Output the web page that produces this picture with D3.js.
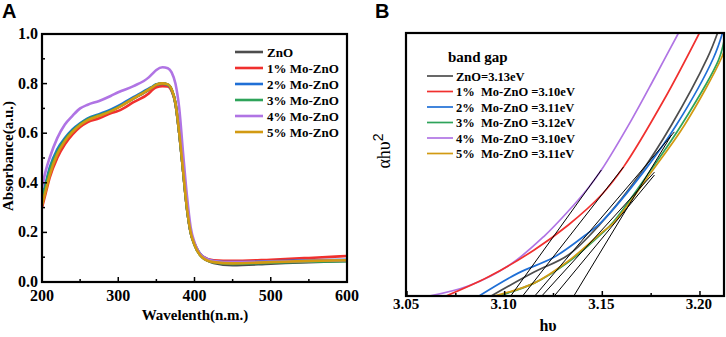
<!DOCTYPE html>
<html>
<head>
<meta charset="utf-8">
<script src="https://cdn.jsdelivr.net/npm/d3@7"></script>
<style>
  body { margin: 0; background: #fff; }
  svg { display: block; }
  text { font-family: "Liberation Serif", "Times New Roman", serif; font-weight: bold; }
</style>
</head>
<body>
<svg id="chart" width="726" height="337"></svg>
<script>
// Panel A: UV-vis absorbance spectra
const wavelengths = [200, 205, 210, 220, 230, 240, 250, 260, 275, 290, 300, 320, 340, 345, 350, 358, 365, 370, 375, 380, 385, 390, 395, 400, 410, 425, 450, 500, 550, 600];
const absZnO   = [0.32, 0.38, 0.44, 0.52, 0.57, 0.605, 0.635, 0.655, 0.672, 0.69, 0.705, 0.74, 0.775, 0.785, 0.795, 0.800, 0.795, 0.775, 0.72, 0.60, 0.45, 0.30, 0.20, 0.15, 0.10, 0.077, 0.068, 0.074, 0.080, 0.085];
const absMo1   = [0.30, 0.36, 0.42, 0.50, 0.555, 0.595, 0.625, 0.645, 0.66, 0.68, 0.69, 0.725, 0.76, 0.775, 0.785, 0.79, 0.788, 0.77, 0.72, 0.60, 0.45, 0.30, 0.20, 0.155, 0.105, 0.088, 0.085, 0.09, 0.097, 0.105];
const absMo2   = [0.34, 0.40, 0.46, 0.535, 0.58, 0.615, 0.64, 0.66, 0.677, 0.695, 0.71, 0.745, 0.78, 0.788, 0.797, 0.800, 0.795, 0.775, 0.72, 0.60, 0.45, 0.30, 0.20, 0.155, 0.105, 0.085, 0.08, 0.083, 0.087, 0.09];
const absMo3   = [0.33, 0.39, 0.45, 0.525, 0.575, 0.61, 0.637, 0.657, 0.673, 0.69, 0.705, 0.74, 0.777, 0.786, 0.796, 0.800, 0.796, 0.776, 0.722, 0.60, 0.45, 0.30, 0.20, 0.15, 0.10, 0.08, 0.073, 0.078, 0.082, 0.084];
const absMo4   = [0.38, 0.45, 0.50, 0.58, 0.635, 0.67, 0.70, 0.715, 0.73, 0.75, 0.765, 0.79, 0.825, 0.84, 0.855, 0.866, 0.862, 0.845, 0.80, 0.70, 0.52, 0.35, 0.22, 0.16, 0.105, 0.085, 0.08, 0.082, 0.085, 0.088];
const absMo5   = [0.31, 0.37, 0.43, 0.515, 0.568, 0.605, 0.633, 0.653, 0.67, 0.688, 0.703, 0.74, 0.776, 0.786, 0.796, 0.801, 0.797, 0.777, 0.722, 0.60, 0.45, 0.30, 0.20, 0.15, 0.10, 0.08, 0.075, 0.08, 0.085, 0.088];

const seriesNames = ["ZnO", "1% Mo-ZnO", "2% Mo-ZnO", "3% Mo-ZnO", "4% Mo-ZnO", "5% Mo-ZnO"];
const seriesColors = ["#4d4d4d", "#f0302e", "#1f6fd6", "#2ea35a", "#b074e4", "#d29a12"];
const absTicksX = [200, 300, 400, 500, 600];
const absTicksY = [0.0, 0.2, 0.4, 0.6, 0.8, 1.0];

// Panel B: Tauc plot, (hv, alpha*hv^2) in arbitrary units
const taucZnO = [[3.0931, 0], [3.1151, 0.091], [3.1326, 0.156], [3.1485, 0.270], [3.1700, 0.471], [3.1854, 0.650], [3.2038, 0.905], [3.2090, 1.0]];
const taucMo1 = [[3.0700, 0], [3.0915, 0.072], [3.1151, 0.175], [3.1326, 0.270], [3.1495, 0.384], [3.1608, 0.490], [3.1818, 0.749], [3.1997, 1.0]];
const taucMo2 = [[3.0869, 0], [3.1069, 0.087], [3.1254, 0.148], [3.1428, 0.240], [3.1495, 0.281], [3.1710, 0.471], [3.1879, 0.650], [3.2069, 0.905], [3.2115, 1.0]];
const taucMo3 = [[3.0967, 0], [3.1151, 0.049], [3.1326, 0.129], [3.1495, 0.236], [3.1556, 0.281], [3.1741, 0.471], [3.1905, 0.650], [3.2095, 0.897], [3.2126, 0.981]];
const taucMo4 = [[3.0613, 0], [3.0813, 0.038], [3.1033, 0.122], [3.1203, 0.228], [3.1326, 0.323], [3.1428, 0.411], [3.1495, 0.479], [3.1649, 0.669], [3.1767, 0.829], [3.1890, 1.0]];
const taucMo5 = [[3.0946, 0], [3.1151, 0.049], [3.1326, 0.133], [3.1495, 0.240], [3.1562, 0.281], [3.1751, 0.471], [3.1921, 0.650], [3.2110, 0.905], [3.2141, 0.973]];

const bandGapLabels = ["ZnO=3.13eV", "1%  Mo-ZnO =3.10eV", "2%  Mo-ZnO =3.11eV", "3%  Mo-ZnO =3.12eV", "4%  Mo-ZnO =3.10eV", "5%  Mo-ZnO =3.11eV"];
// tangent lines: x-intercept and the upper end of each fitted line
const tangentIntercepts = [3.1354, 3.1092, 3.1154, 3.1254, 3.1031, 3.1190];
const tangentEnds = [[3.1854, 0.612], [3.1608, 0.490], [3.1869, 0.624], [3.1767, 0.460], [3.1495, 0.479], [3.1767, 0.471]];
const taucTicksX = [3.05, 3.10, 3.15, 3.20];

const svg = d3.select("#chart");

function drawTicks(g, scale, values, len, orient) {
  values.forEach(v => {
    const p = scale(v);
    if (orient === "bottom") {
      g.append("line").attr("x1", p).attr("x2", p)
        .attr("y1", 0).attr("y2", -len);
    } else {
      g.append("line").attr("y1", p).attr("y2", p)
        .attr("x1", 0).attr("x2", len);
    }
  });
  g.selectAll("line").attr("stroke", "#000").attr("stroke-width", 1.5);
}

function drawPanelA() {
  const x = d3.scaleLinear().domain([200, 600]).range([42, 347]);
  const y = d3.scaleLinear().domain([0, 1]).range([282, 34]);
  const allSeries = [absZnO, absMo1, absMo2, absMo3, absMo4, absMo5];

  svg.append("defs").append("clipPath").attr("id", "clipA")
    .append("rect").attr("x", 42).attr("y", 34).attr("width", 305).attr("height", 248);

  const line = d3.line()
    .x((d, i) => x(wavelengths[i]))
    .y(d => y(d))
    .curve(d3.curveMonotoneX);

  svg.append("g").attr("clip-path", "url(#clipA)")
    .selectAll("path")
    .data([0, 1, 2, 3, 4, 5])
    .enter().append("path")
    .attr("d", i => line(allSeries[i]))
    .attr("fill", "none")
    .attr("stroke", i => seriesColors[i])
    .attr("stroke-width", 2.6)
    .attr("stroke-linejoin", "round");

  // frame
  svg.append("rect").attr("x", 42).attr("y", 34).attr("width", 305).attr("height", 248)
    .attr("fill", "none").attr("stroke", "#000").attr("stroke-width", 2.2);

  // ticks
  drawTicks(svg.append("g").attr("transform", "translate(0,282)"), x, d3.range(200, 601, 100), 5, "bottom");
  drawTicks(svg.append("g").attr("transform", "translate(0,282)"), x, d3.range(250, 600, 100), 3, "bottom");
  drawTicks(svg.append("g").attr("transform", "translate(42,0)"), y, [0.2, 0.4, 0.6, 0.8], 5, "left");
  drawTicks(svg.append("g").attr("transform", "translate(42,0)"), y, [0.1, 0.3, 0.5, 0.7, 0.9], 3, "left");

  svg.append("g").selectAll("text").data(absTicksX).enter().append("text")
    .attr("x", d => x(d)).attr("y", 300.5)
    .attr("text-anchor", "middle").attr("font-size", 16)
    .text(d => d);

  svg.append("g").selectAll("text").data(absTicksY).enter().append("text")
    .attr("x", 38).attr("y", d => y(d) + 5)
    .attr("text-anchor", "end").attr("font-size", 16)
    .text(d => d.toFixed(1));

  svg.append("text").attr("x", 195).attr("y", 320)
    .attr("text-anchor", "middle").attr("font-size", 15)
    .text("Wavelenth(n.m.)");

  svg.append("text")
    .attr("transform", "translate(13,156) rotate(-90)")
    .attr("text-anchor", "middle").attr("font-size", 15)
    .text("Absorbance(a.u.)");

  // legend
  const leg = svg.append("g");
  seriesNames.forEach((name, i) => {
    const yy = 52 + i * 16;
    leg.append("line").attr("x1", 235).attr("x2", 263).attr("y1", yy).attr("y2", yy)
      .attr("stroke", seriesColors[i]).attr("stroke-width", 2.6);
    leg.append("text").attr("x", 267).attr("y", yy + 4.5)
      .attr("font-size", 13).text(name);
  });

  svg.append("text").attr("x", 2).attr("y", 18)
    .style("font-family", "'Liberation Sans', Arial, sans-serif")
    .attr("font-size", 20).text("A");
}

function drawPanelB() {
  const x = d3.scaleLinear().domain([3.05, 3.2123]).range([407, 724]);
  const y = d3.scaleLinear().domain([0, 1]).range([296, 33]);
  const allTauc = [taucZnO, taucMo1, taucMo2, taucMo3, taucMo4, taucMo5];

  svg.select("defs").append("clipPath").attr("id", "clipB")
    .append("rect").attr("x", 406).attr("y", 33).attr("width", 318).attr("height", 263);

  const line = d3.line()
    .x(d => x(d[0]))
    .y(d => y(d[1]))
    .curve(d3.curveCatmullRom.alpha(0.5));

  const plot = svg.append("g").attr("clip-path", "url(#clipB)");
  plot.selectAll("path.curve")
    .data([4, 1, 0, 2, 3, 5])
    .enter().append("path")
    .attr("class", "curve")
    .attr("d", i => line(allTauc[i]))
    .attr("fill", "none")
    .attr("stroke", i => seriesColors[i])
    .attr("stroke-width", 1.7);

  plot.selectAll("line.tangent")
    .data(tangentIntercepts)
    .enter().append("line")
    .attr("class", "tangent")
    .attr("x1", d => x(d)).attr("y1", y(0))
    .attr("x2", (d, i) => x(tangentEnds[i][0]))
    .attr("y2", (d, i) => y(tangentEnds[i][1]))
    .attr("stroke", "#000").attr("stroke-width", 1);

  svg.append("rect").attr("x", 406).attr("y", 33).attr("width", 318).attr("height", 263)
    .attr("fill", "none").attr("stroke", "#000").attr("stroke-width", 2.2);

  drawTicks(svg.append("g").attr("transform", "translate(0,296)"), x, taucTicksX, 5, "bottom");
  drawTicks(svg.append("g").attr("transform", "translate(0,296)"), x, [3.075, 3.125, 3.175], 3, "bottom");

  svg.append("g").selectAll("text").data(taucTicksX).enter().append("text")
    .attr("x", d => x(d) - 1).attr("y", 309)
    .attr("text-anchor", "middle").attr("font-size", 15)
    .text(d => d.toFixed(2));

  svg.append("text").attr("x", 548).attr("y", 331)
    .attr("text-anchor", "middle").attr("font-size", 16)
    .text("hυ");

  const yl = svg.append("text")
    .attr("transform", "translate(390,151) rotate(-90)")
    .attr("text-anchor", "middle").attr("font-size", 18)
    .style("font-weight", "normal");
  yl.append("tspan").text("αhυ");
  yl.append("tspan").attr("dy", -7).attr("font-size", 14)
    .style("font-family", "'Liberation Sans', Arial, sans-serif").text("2");

  svg.append("text").attr("x", 448).attr("y", 62)
    .attr("font-size", 15).text("band gap");

  const leg = svg.append("g");
  bandGapLabels.forEach((lab, i) => {
    const yy = 76 + i * 15.5;
    leg.append("line").attr("x1", 427).attr("x2", 453).attr("y1", yy).attr("y2", yy)
      .attr("stroke", seriesColors[i]).attr("stroke-width", 1.7);
    leg.append("text").attr("x", 456).attr("y", yy + 4.5)
      .attr("font-size", 12.5).attr("xml:space", "preserve")
      .style("white-space", "pre").text(lab);
  });

  svg.append("text").attr("x", 375).attr("y", 18)
    .style("font-family", "'Liberation Sans', Arial, sans-serif")
    .attr("font-size", 20).text("B");
}

drawPanelA();
drawPanelB();
</script>
</body>
</html>
